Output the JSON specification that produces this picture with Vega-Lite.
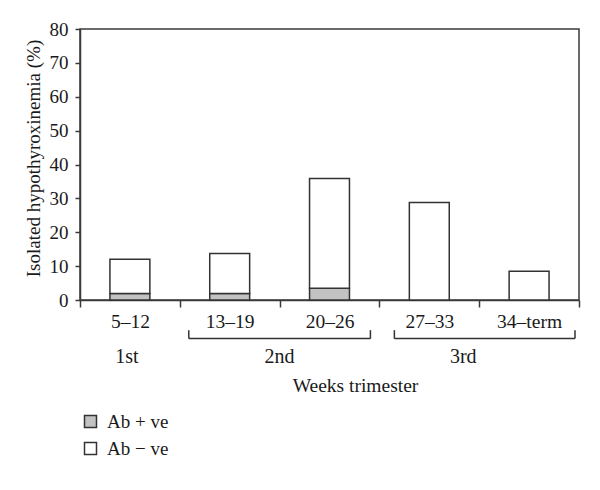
{
  "$schema": "https://vega.github.io/schema/vega-lite/v6.json",
  "width": 499,
  "height": 271,
  "autosize": "none",
  "padding": {"left": 80, "top": 29, "right": 21, "bottom": 190},
  "background": "white",
  "config": {
    "view": {"stroke": "#3a3a3a", "strokeWidth": 1.5},
    "font": "Liberation Serif",
    "axis": {
      "labelFont": "Liberation Serif",
      "titleFont": "Liberation Serif",
      "labelFontSize": 19,
      "titleFontSize": 19.5,
      "titleFontWeight": "normal",
      "labelColor": "#1a1a1a",
      "titleColor": "#1a1a1a",
      "domainColor": "#3a3a3a",
      "tickColor": "#3a3a3a",
      "domainWidth": 1.5,
      "tickWidth": 1.5,
      "grid": false
    },
    "legend": {
      "labelFont": "Liberation Serif",
      "labelFontSize": 19,
      "labelColor": "#1a1a1a"
    }
  },
  "datasets": {
    "bars": [
      {"week": "5–12", "status": "Ab + ve", "value": 1.9},
      {"week": "5–12", "status": "Ab − ve", "value": 10.1},
      {"week": "13–19", "status": "Ab + ve", "value": 1.9},
      {"week": "13–19", "status": "Ab − ve", "value": 11.8},
      {"week": "20–26", "status": "Ab + ve", "value": 3.5},
      {"week": "20–26", "status": "Ab − ve", "value": 32.4},
      {"week": "27–33", "status": "Ab − ve", "value": 28.8},
      {"week": "34–term", "status": "Ab − ve", "value": 8.5}
    ],
    "brackets": [
      {"trimester": "2nd", "start": 1.09, "end": 2.91},
      {"trimester": "3rd", "start": 3.15, "end": 4.96}
    ],
    "trimesters": [
      {"trimester": "1st", "center": 0.47},
      {"trimester": "2nd", "center": 2.0},
      {"trimester": "3rd", "center": 3.84}
    ]
  },
  "layer": [
    {
      "data": {"name": "bars"},
      "mark": {"type": "bar", "width": {"band": 0.4}, "stroke": "#333333", "strokeWidth": 1.5},
      "encoding": {
        "x": {
          "field": "week",
          "type": "nominal",
          "sort": ["5–12", "13–19", "20–26", "27–33", "34–term"],
          "scale": {"paddingInner": 0, "paddingOuter": 0},
          "axis": {
            "title": "Weeks trimester",
            "tickBand": "extent",
            "labelAngle": 0,
            "labelFontSize": 19.5,
            "tickSize": 7,
            "labelPadding": 5,
            "titlePadding": 46,
            "titleX": 275
          }
        },
        "y": {
          "field": "value",
          "type": "quantitative",
          "stack": "zero",
          "scale": {"domain": [0, 80], "nice": false},
          "axis": {
            "title": "Isolated hypothyroxinemia (%)",
            "values": [0, 10, 20, 30, 40, 50, 60, 70, 80],
            "tickSize": 5,
            "labelPadding": 7,
            "titlePadding": 6,
            "titleFontSize": 19,
            "titleY": 129
          }
        },
        "color": {
          "field": "status",
          "type": "nominal",
          "scale": {"domain": ["Ab + ve", "Ab − ve"], "range": ["#c2c2c2", "#ffffff"]},
          "legend": {
            "title": null,
            "orient": "none",
            "legendX": 1,
            "legendY": 383,
            "padding": 0,
            "symbolType": "square",
            "symbolSize": 144,
            "symbolStrokeColor": "#333333",
            "symbolStrokeWidth": 1.5,
            "symbolOpacity": 1,
            "labelOffset": 7,
            "rowPadding": 7
          }
        },
        "order": {"field": "status", "sort": "ascending"}
      }
    },
    {
      "data": {"name": "brackets"},
      "mark": {"type": "rule", "stroke": "#333333", "strokeWidth": 1.5},
      "encoding": {
        "x": {"field": "start", "type": "quantitative", "scale": {"domain": [0, 5], "nice": false, "zero": true}, "axis": null},
        "x2": {"field": "end"},
        "y": {"datum": -11.4, "type": "quantitative", "scale": {"domain": [0, 80], "nice": false}, "axis": null}
      }
    },
    {
      "data": {"name": "brackets"},
      "mark": {"type": "rule", "stroke": "#333333", "strokeWidth": 1.5},
      "encoding": {
        "x": {"field": "start", "type": "quantitative", "scale": {"domain": [0, 5], "nice": false, "zero": true}, "axis": null},
        "y": {"datum": -11.4, "type": "quantitative", "scale": {"domain": [0, 80], "nice": false}, "axis": null},
        "y2": {"datum": -8.9}
      }
    },
    {
      "data": {"name": "brackets"},
      "mark": {"type": "rule", "stroke": "#333333", "strokeWidth": 1.5},
      "encoding": {
        "x": {"field": "end", "type": "quantitative", "scale": {"domain": [0, 5], "nice": false, "zero": true}, "axis": null},
        "y": {"datum": -11.4, "type": "quantitative", "scale": {"domain": [0, 80], "nice": false}, "axis": null},
        "y2": {"datum": -8.9}
      }
    },
    {
      "data": {"name": "trimesters"},
      "mark": {"type": "text", "font": "Liberation Serif", "fontSize": 20, "color": "#1a1a1a", "align": "center", "baseline": "middle"},
      "encoding": {
        "x": {"field": "center", "type": "quantitative", "scale": {"domain": [0, 5], "nice": false, "zero": true}, "axis": null},
        "y": {"datum": -16.8, "type": "quantitative", "scale": {"domain": [0, 80], "nice": false}, "axis": null},
        "text": {"field": "trimester"}
      }
    }
  ],
  "resolve": {"scale": {"x": "independent", "y": "independent"}}
}
